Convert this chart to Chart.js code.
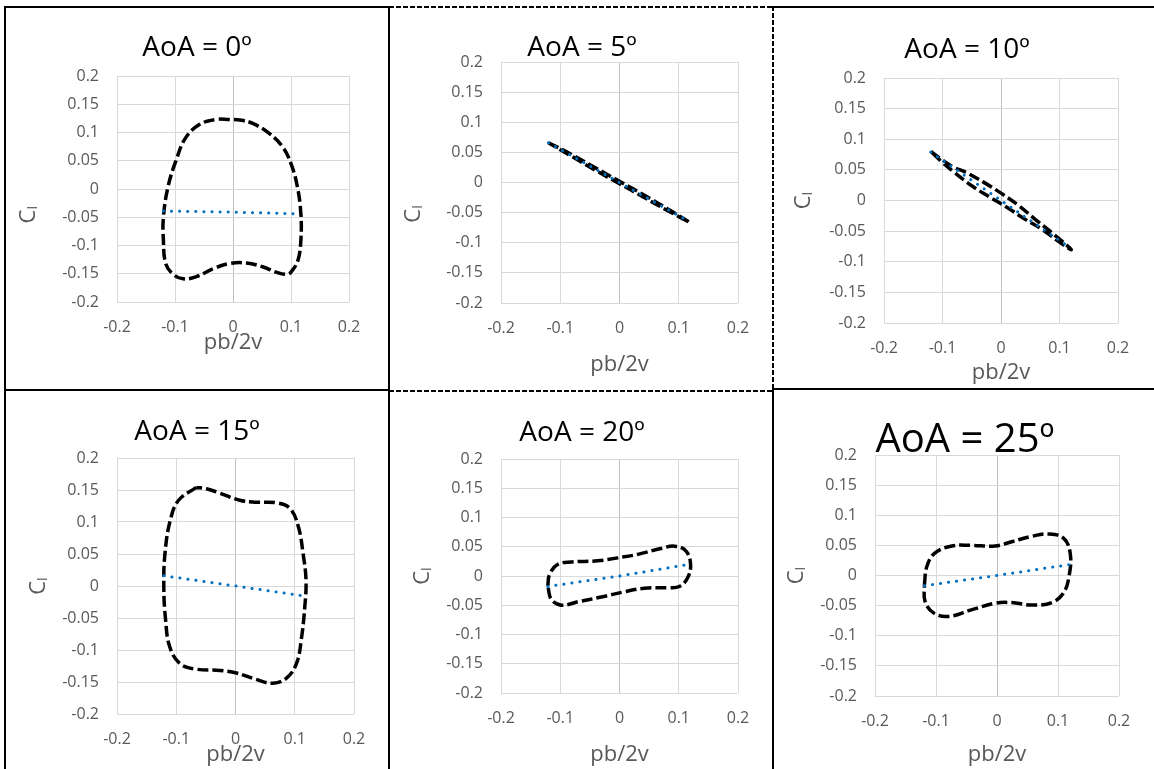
<!DOCTYPE html>
<html>
<head>
<meta charset="utf-8">
<script src="https://cdn.jsdelivr.net/npm/chart.js@4.4.1/dist/chart.umd.min.js"></script>
<style>
  html, body { margin: 0; padding: 0; background: #fff; }
  body { width: 1154px; height: 769px; position: relative; overflow: hidden; }
  canvas { position: absolute; }
  .ln { position: absolute; background: #000; }
  .dh { position: absolute; height: 2px; background: repeating-linear-gradient(to right, #000 0 5px, transparent 5px 7px); }
  .dv { position: absolute; width: 2px; background: repeating-linear-gradient(to bottom, #000 0 5px, transparent 5px 7px); }
</style>
</head>
<body>
<!-- table frame -->
<div class="ln" style="left:4px;top:6px;width:385px;height:2px"></div>
<div class="dh" style="left:389px;top:6px;width:384px"></div>
<div class="ln" style="left:773px;top:6px;width:381px;height:2px"></div>
<div class="ln" style="left:4px;top:6px;width:2px;height:763px"></div>
<div class="ln" style="left:388px;top:6px;width:2px;height:763px"></div>
<div class="dv" style="left:772px;top:6px;height:384px"></div>
<div class="ln" style="left:772px;top:389px;width:2px;height:380px"></div>
<div class="ln" style="left:4px;top:389px;width:385px;height:2px"></div>
<div class="dh" style="left:389px;top:390px;width:384px"></div>
<div class="ln" style="left:773px;top:388px;width:381px;height:2px"></div>

<script>
// ---- data (pb/2v, Cl) ----
var titles = ['AoA = 0º', 'AoA = 5º', 'AoA = 10º', 'AoA = 15º', 'AoA = 20º', 'AoA = 25º'];

var loop0 = [[-0.006, 0.123], [-0.03, 0.123], [-0.058, 0.114], [-0.082, 0.09], [-0.098, 0.051],
  [-0.112, 0.004], [-0.12, -0.05], [-0.12, -0.091], [-0.116, -0.132], [-0.103, -0.151], [-0.086, -0.159],
  [-0.063, -0.155], [-0.034, -0.141], [-0.006, -0.132], [0.023, -0.131], [0.052, -0.138], [0.074, -0.147],
  [0.092, -0.151], [0.1, -0.147], [0.112, -0.126], [0.117, -0.091], [0.117, -0.044], [0.111, 0.004],
  [0.1, 0.045], [0.086, 0.074], [0.063, 0.098], [0.034, 0.116], [0.012, 0.122], [-0.006, 0.123]];
var fit0 = [[-0.12, -0.039], [0, -0.041], [0.115, -0.044]];

var loop5 = [[-0.12, 0.066], [-0.08, 0.046], [-0.04, 0.024], [0, 0.002], [0.04, -0.02], [0.08, -0.043],
  [0.118, -0.066], [0.08, -0.046], [0.04, -0.024], [0, -0.002], [-0.04, 0.02], [-0.08, 0.043], [-0.12, 0.066]];
var fit5 = [[-0.12, 0.066], [0, 0], [0.118, -0.065]];

var loop10 = [[-0.12, 0.08], [-0.1, 0.066], [-0.08, 0.054], [-0.06, 0.046], [-0.03, 0.03], [0, 0.012],
  [0.03, -0.008], [0.06, -0.032], [0.09, -0.055], [0.12, -0.08], [0.1, -0.068], [0.07, -0.047],
  [0.04, -0.03], [0.01, -0.011], [-0.02, 0.006], [-0.05, 0.024], [-0.08, 0.046], [-0.1, 0.062], [-0.12, 0.08]];
var fit10 = [[-0.12, 0.079], [0, 0], [0.118, -0.077]];

var loop15 = [[-0.066, 0.154], [-0.096, 0.134], [-0.11, 0.103], [-0.119, 0.051], [-0.121, -0.001],
  [-0.118, -0.053], [-0.111, -0.095], [-0.094, -0.121], [-0.066, -0.13], [-0.026, -0.132], [0.002, -0.136],
  [0.035, -0.146], [0.063, -0.152], [0.086, -0.144], [0.103, -0.121], [0.111, -0.084], [0.117, -0.032],
  [0.119, 0.009], [0.114, 0.051], [0.106, 0.093], [0.092, 0.121], [0.069, 0.13], [0.035, 0.131],
  [0.007, 0.134], [-0.026, 0.145], [-0.049, 0.152], [-0.066, 0.154]];
var fit15 = [[-0.121, 0.016], [0, 0], [0.119, -0.016]];

var loop20 = [[-0.121, -0.017], [-0.118, 0.003], [-0.104, 0.02], [-0.081, 0.024], [-0.037, 0.026],
  [-0.003, 0.031], [0.031, 0.037], [0.07, 0.047], [0.093, 0.051], [0.112, 0.043], [0.12, 0.02],
  [0.115, -0.003], [0.101, -0.018], [0.081, -0.02], [0.042, -0.021], [0.008, -0.027], [-0.031, -0.036],
  [-0.07, -0.044], [-0.098, -0.05], [-0.115, -0.04], [-0.121, -0.017]];
var fit20 = [[-0.121, -0.018], [0, 0], [0.118, 0.02]];

var loop25 = [[-0.119, -0.015], [-0.115, 0.015], [-0.102, 0.037], [-0.074, 0.049], [-0.042, 0.05],
  [-0.003, 0.049], [0.024, 0.056], [0.057, 0.065], [0.084, 0.069], [0.109, 0.062], [0.12, 0.037],
  [0.118, -0.002], [0.109, -0.029], [0.09, -0.045], [0.057, -0.049], [0.024, -0.045], [-0.003, -0.046],
  [-0.042, -0.057], [-0.08, -0.068], [-0.104, -0.062], [-0.118, -0.043], [-0.119, -0.015]];
var fit25 = [[-0.119, -0.017], [0, 0], [0.118, 0.018]];

var loops = [loop0, loop5, loop10, loop15, loop20, loop25];
var fits = [fit0, fit5, fit10, fit15, fit20, fit25];

var xTickValues = [-0.2, -0.1, 0, 0.1, 0.2];
var xTickLabels = ['-0.2', '-0.1', '0', '0.1', '0.2'];
var yTickValues = [-0.2, -0.15, -0.1, -0.05, 0, 0.05, 0.1, 0.15, 0.2];
var yTickLabels = ['-0.2', '-0.15', '-0.1', '-0.05', '0', '0.05', '0.1', '0.15', '0.2'];

// ---- layout, page pixels: box = canvas [x, y, w, h], plot = [left, top, right, bottom] ----
var LAYOUT = [
  { box: [7, 9, 381, 380],   plot: [117, 76, 349, 302],  tx: 197, ty: 48,  ts: 28, yx: 29,  yShift: 9, xy: 343 },
  { box: [391, 9, 381, 380], plot: [501, 62, 738, 303],  tx: 582, ty: 48,  ts: 28, yx: 414, yShift: 11, xy: 365 },
  { box: [775, 9, 379, 380], plot: [884, 78, 1118, 323], tx: 967, ty: 50,  ts: 28, yx: 804, yShift: 0, xy: 373 },
  { box: [7, 392, 381, 377],   plot: [117, 458, 354, 714],  tx: 197, ty: 432, ts: 28, yx: 39,  yShift: 0, xy: 755 },
  { box: [391, 392, 381, 377], plot: [501, 459, 738, 693],  tx: 582, ty: 433, ts: 28, yx: 423, yShift: 0, xy: 755 },
  { box: [775, 392, 379, 377], plot: [875, 455, 1119, 696], tx: 965, ty: 441, ts: 40, yx: 797, yShift: 0, xy: 755 }
];

var FAMILY = "'Open Sans', 'DejaVu Sans', sans-serif";
var TICK_SIZE = 16;
var AXIS_SIZE = 22;
var GREY = '#595959';

function toPts(arr) {
  return arr.map(function (p) { return { x: p[0], y: p[1] }; });
}

function makeChart(i) {
  var L = LAYOUT[i];
  var bx = L.box[0], by = L.box[1], bw = L.box[2], bh = L.box[3];
  var pl = L.plot[0] - bx, pt = L.plot[1] - by, pr = L.plot[2] - bx, pb = L.plot[3] - by;

  var padR = bw - pr;
  var padL = 2 * (L.tx - bx) - pr;      // keeps the title centred where it is in the picture
  var yW = pl - padL;
  var xH = bh - pb;
  var tLh = L.ts * 1.2;
  var tTop = L.ty - by - tLh / 2;
  var tBot = pt - tTop - tLh;
  var aLh = AXIS_SIZE * 1.2;
  var yTitlePad = L.yx - bx - padL - aLh / 2;
  var xTitlePad = bh - (L.xy - by) - aLh / 2;

  var cv = document.createElement('canvas');
  cv.width = bw; cv.height = bh;
  cv.style.left = bx + 'px'; cv.style.top = by + 'px';
  document.body.appendChild(cv);

  // trailing no-break spaces push the rotated label down the axis, as in the picture
  var yText = 'Cₗ' + new Array(L.yShift + 1).join('\u00a0');

  new Chart(cv.getContext('2d'), {
    type: 'scatter',
    data: {
      datasets: [
        { data: toPts(fits[i]), showLine: true, borderColor: '#0070c0', borderWidth: 3,
          borderDash: [0.1, 8], borderCapStyle: 'round', pointRadius: 0, tension: 0, order: 0 },
        { data: toPts(loops[i]), showLine: true, borderColor: '#000', borderWidth: 3.5,
          borderDash: [11, 4], pointRadius: 0, tension: 0.4, order: 1 }
      ]
    },
    options: {
      responsive: false,
      animation: false,
      devicePixelRatio: 1,
      layout: { padding: { left: padL, right: padR, top: 0, bottom: 0 } },
      plugins: {
        legend: { display: false },
        tooltip: { enabled: false },
        title: {
          display: true, text: titles[i], color: '#000',
          font: { family: FAMILY, size: L.ts, weight: 'normal', lineHeight: 1.2 },
          padding: { top: tTop, bottom: tBot }
        }
      },
      scales: {
        x: {
          type: 'linear', min: -0.2, max: 0.2,
          afterBuildTicks: function (s) { s.ticks = xTickValues.map(function (v) { return { value: v }; }); },
          afterFit: function (s) { s.height = xH; },
          ticks: {
            color: GREY, padding: 16, maxRotation: 0, autoSkip: false,
            font: { family: FAMILY, size: TICK_SIZE },
            callback: function (v, idx) { return xTickLabels[idx]; }
          },
          grid: {
            drawTicks: false, lineWidth: 1,
            color: function (c) { return c.tick && Math.abs(c.tick.value) < 1e-9 ? '#bfbfbf' : '#d9d9d9'; }
          },
          border: { display: false },
          title: {
            display: true, text: 'pb/2v', color: GREY,
            font: { family: FAMILY, size: AXIS_SIZE, lineHeight: 1.2 },
            padding: { top: 0, bottom: xTitlePad }
          }
        },
        y: {
          type: 'linear', min: -0.2, max: 0.2,
          afterBuildTicks: function (s) { s.ticks = yTickValues.map(function (v) { return { value: v }; }); },
          afterFit: function (s) { s.width = yW; },
          ticks: {
            color: GREY, padding: 18, autoSkip: false,
            font: { family: FAMILY, size: TICK_SIZE },
            callback: function (v, idx) { return yTickLabels[idx]; }
          },
          grid: { drawTicks: false, lineWidth: 1, color: '#d9d9d9' },
          border: { display: false },
          title: {
            display: true, text: yText, color: GREY,
            font: { family: FAMILY, size: AXIS_SIZE, lineHeight: 1.2 },
            padding: { top: yTitlePad, bottom: 0 }
          }
        }
      }
    }
  });
}

for (var i = 0; i < 6; i++) makeChart(i);
</script>
</body>
</html>
